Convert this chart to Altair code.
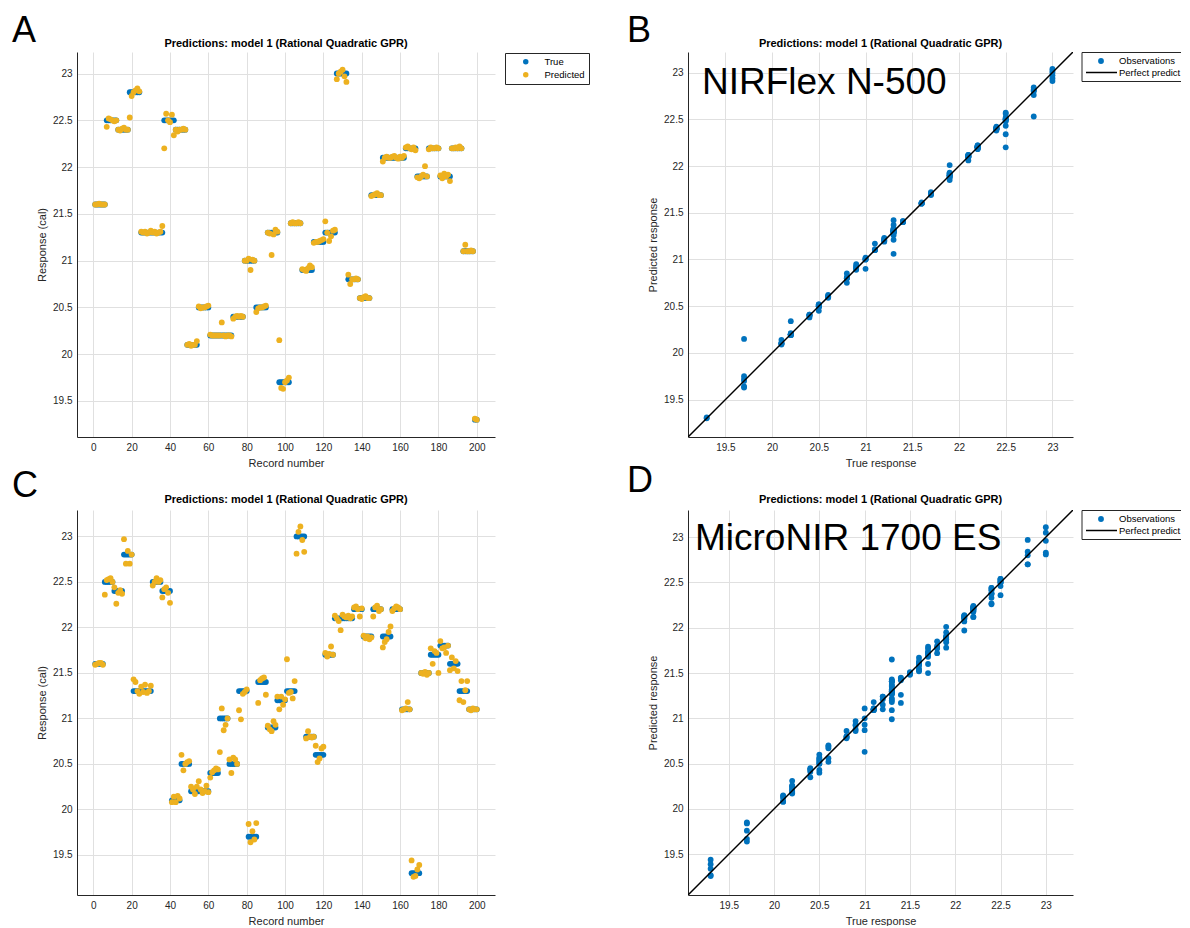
import altair as alt
import pandas as pd

BLUE = "#0072BD"
ORANGE = "#EDB120"
FONT = "Liberation Sans"
TITLE = "Predictions: model 1 (Rational Quadratic GPR)"

record_ticks = [0, 20, 40, 60, 80, 100, 120, 140, 160, 180, 200]
response_ticks = [19.5, 20, 20.5, 21, 21.5, 22, 22.5, 23]

# ---- Panel A / B data (NIRFlex N-500): true value per sample group and predictions per record
a_true = [21.6, 22.5, 22.4, 22.8, 21.3, 22.5, 22.4, 20.1, 20.5, 20.2, 20.4, 21.0, 20.5, 21.3, 19.7, 21.4,
          20.9, 21.2, 21.3, 23.0, 20.8, 20.6, 21.7, 22.1, 22.2, 21.9, 22.2, 21.9, 22.2, 21.1, 19.3]
a_pred = [
    [21.6, 21.6, 21.61, 21.6, 21.6, 21.6],
    [22.43, 22.52, 22.51, 22.5, 22.49, 22.5],
    [22.4, 22.39, 22.41, 22.42, 22.4, 22.4],
    [22.53, 22.76, 22.8, 22.82, 22.84, 22.81],
    [21.31, 21.3, 21.31, 21.29, 21.3, 21.32, 21.3, 21.31, 21.29, 21.3, 21.31, 21.37],
    [22.2, 22.57, 22.5, 22.48, 22.56, 22.34],
    [22.4, 22.38, 22.4, 22.4, 22.41, 22.4],
    [20.1, 20.11, 20.09, 20.1, 20.1, 20.14],
    [20.51, 20.49, 20.5, 20.5, 20.51, 20.52],
    [20.21, 20.2, 20.2, 20.2, 20.2, 20.2, 20.34, 20.2, 20.19, 20.2, 20.2, 20.19],
    [20.38, 20.4, 20.41, 20.4, 20.41, 20.4],
    [21.0, 21.0, 21.02, 20.9, 21.01, 21.0],
    [20.45, 20.49, 20.5, 20.5, 20.51, 20.52],
    [21.3, 21.29, 21.06, 21.28, 21.33, 21.31],
    [20.15, 19.64, 19.63, 19.7, 19.72, 19.75],
    [21.4, 21.41, 21.4, 21.4, 21.41, 21.4],
    [20.91, 20.9, 20.89, 20.92, 20.95, 20.93],
    [21.19, 21.2, 21.2, 21.21, 21.22, 21.23],
    [21.42, 21.3, 21.21, 21.26, 21.32, 21.33],
    [22.94, 23.0, 23.02, 23.04, 22.97, 22.91],
    [20.85, 20.75, 20.8, 20.8, 20.81, 20.8],
    [20.6, 20.59, 20.61, 20.62, 20.6, 20.6],
    [21.69, 21.7, 21.71, 21.72, 21.7, 21.7],
    [22.06, 22.1, 22.11, 22.1, 22.1, 22.11, 22.12, 22.1, 22.09, 22.11, 22.1, 22.12],
    [22.21, 22.22, 22.2, 22.19, 22.21, 22.18],
    [21.89, 21.88, 21.9, 21.92, 22.01, 21.9],
    [22.19, 22.21, 22.2, 22.2, 22.21, 22.2],
    [21.91, 21.88, 21.93, 21.9, 21.92, 21.85],
    [22.2, 22.2, 22.21, 22.2, 22.22, 22.2],
    [21.1, 21.17, 21.1, 21.1, 21.11, 21.1],
    [19.31, 19.3],
]

# ---- Panel C / D data (MicroNIR 1700 ES)
c_true = [21.6, 22.5, 22.4, 22.8, 21.3, 22.5, 22.4, 20.1, 20.5, 20.2, 20.4, 21.0, 20.5, 21.3, 19.7, 21.4,
          20.9, 21.2, 21.3, 23.0, 20.8, 20.6, 21.7, 22.1, 22.2, 21.9, 22.2, 21.9, 22.2, 21.1, 19.3, 21.5,
          21.7, 21.8, 21.6, 21.3, 21.1]
c_pred = [
    [21.59, 21.6, 21.61, 21.61, 21.59],
    [22.36, 22.52, 22.53, 22.54, 22.5],
    [22.44, 22.26, 22.38, 22.41, 22.37],
    [22.97, 22.7, 22.84, 22.7, 22.8],
    [21.43, 21.4, 21.3, 21.27, 21.35, 21.29, 21.37, 21.28, 21.3, 21.36],
    [22.46, 22.5, 22.54, 22.5, 22.52],
    [22.33, 22.42, 22.44, 22.38, 22.27],
    [20.08, 20.14, 20.08, 20.15, 20.12],
    [20.6, 20.43, 20.5, 20.52, 20.53],
    [20.25, 20.22, 20.17, 20.25, 20.31, 20.22, 20.18, 20.2, 20.26, 20.19],
    [20.35, 20.41, 20.43, 20.45, 20.44],
    [20.63, 21.11, 20.87, 20.93, 21.0],
    [20.55, 20.4, 20.57, 20.55, 20.5],
    [21.09, 20.99, 21.27, 21.29, 21.32],
    [19.84, 19.64, 19.76, 19.67, 19.85],
    [21.17, 21.42, 21.44, 21.45, 21.26],
    [20.92, 20.88, 20.86, 20.97, 20.93],
    [21.24, 21.1, 21.24, 21.15, 21.21],
    [21.65, 21.28, 21.29, 21.22, 21.41],
    [22.81, 23.05, 23.11, 22.96, 22.83],
    [20.78, 20.86, 20.8, 20.79, 20.8],
    [20.7, 20.52, 20.56, 20.67, 20.69],
    [21.72, 21.68, 21.71, 21.79, 21.7],
    [22.13, 22.1, 22.07, 21.97, 22.14, 22.12, 22.11, 22.13, 22.1, 22.12],
    [22.22, 22.23, 22.2, 22.12, 22.21],
    [21.91, 21.88, 21.9, 21.87, 21.89],
    [22.12, 22.22, 22.24, 22.18, 22.2],
    [21.78, 21.84, 21.87, 21.95, 22.01],
    [22.18, 22.21, 22.23, 22.22, 22.2],
    [21.09, 21.1, 21.11, 21.18, 21.1],
    [19.44, 19.26, 19.27, 19.34, 19.39],
    [21.5, 21.49, 21.51, 21.48, 21.5],
    [21.77, 21.6, 21.74, 21.72, 21.5],
    [21.85, 21.77, 21.78, 21.72, 21.8],
    [21.53, 21.67, 21.55, 21.63, 21.52],
    [21.2, 21.41, 21.18, 21.31, 21.41],
    [21.1, 21.09, 21.11, 21.1, 21.1],
]


def build_frame(trues, preds):
    rows = []
    rec = 1
    for t, ps in zip(trues, preds):
        for p in ps:
            rows.append({"record": rec, "true": t, "pred": p})
            rec += 1
    return pd.DataFrame(rows)


df_a = build_frame(a_true, a_pred)
df_c = build_frame(c_true, c_pred)

W_REC, W_SC, H = 418, 385, 385
PT_SIZE = 34
ONE = pd.DataFrame({"k": [0]})


def letter_layer(letter, x, y):
    return alt.Chart(pd.DataFrame({"t": [letter]})).mark_text(
        fontSize=36, font=FONT, align="left", baseline="alphabetic", color="black"
    ).encode(text="t:N", x=alt.value(x), y=alt.value(y))


def title_layer(width, offset):
    return alt.Chart(pd.DataFrame({"t": [TITLE]})).mark_text(
        fontSize=11, font=FONT, fontWeight="bold", align="center", baseline="bottom", color="black"
    ).encode(text="t:N", x=alt.value(width / 2), y=alt.value(-offset))


def record_panel(df, ydom, letter, letter_y, title_offset):
    xenc = alt.X("record:Q", scale=alt.Scale(domain=[-8.5, 209.5], nice=False, zero=False),
                 axis=alt.Axis(values=record_ticks, title="Record number"))
    yscale = alt.Scale(domain=ydom, nice=False, zero=False)
    yaxis = alt.Axis(values=response_ticks, title="Response (cal)", format="~g")
    color = alt.Color("series:N", scale=alt.Scale(domain=["True", "Predicted"], range=[BLUE, ORANGE]),
                      legend=alt.Legend(title=None, orient="none", legendX=428, legendY=1,
                                        strokeColor="#262626", fillColor="white", padding=4,
                                        symbolType="circle", symbolSize=30, labelFontSize=9.5,
                                        labelColor="black", symbolOffset=12, labelOffset=14,
                                        rowPadding=2, labelFont=FONT))
    base = alt.Chart(df)
    t_layer = base.transform_calculate(series="'True'").mark_circle(size=PT_SIZE, opacity=1).encode(
        x=xenc, y=alt.Y("true:Q", scale=yscale, axis=yaxis), color=color)
    p_layer = base.transform_calculate(series="'Predicted'").mark_circle(size=PT_SIZE, opacity=1).encode(
        x=xenc, y=alt.Y("pred:Q", scale=yscale, axis=yaxis), color=color)
    return alt.layer(t_layer, p_layer, letter_layer(letter, -65, letter_y),
                     title_layer(W_REC, title_offset)).properties(width=W_REC, height=H)


def scatter_panel(df, dom, letter, letter_y, label, label_x, label_y, title_offset):
    sc = alt.Scale(domain=dom, nice=False, zero=False)
    pts = alt.Chart(df).mark_circle(size=PT_SIZE, color=BLUE, opacity=1).encode(
        x=alt.X("true:Q", scale=sc, axis=alt.Axis(values=response_ticks, title="True response", format="~g")),
        y=alt.Y("pred:Q", scale=sc, axis=alt.Axis(values=response_ticks, title="Predicted response", format="~g")),
    )
    line = alt.Chart(pd.DataFrame({"v": [dom[0], dom[1]]})).mark_line(
        color="black", strokeWidth=1.5, clip=True).encode(x=alt.X("v:Q", scale=sc), y=alt.Y("v:Q", scale=sc))
    big = alt.Chart(pd.DataFrame({"t": [label]})).mark_text(
        fontSize=37, font=FONT, align="left", baseline="alphabetic", color="black"
    ).encode(text="t:N", x=alt.value(label_x), y=alt.value(label_y))
    # legend (box partly cut off at the right edge, as in the original)
    lx0, lx1, ly0, ly1 = 394, 493, 0.5, 29.5
    edges = [
        alt.Chart(ONE).mark_rule(color="#262626", strokeWidth=1).encode(
            x=alt.value(lx0), x2=alt.value(lx1), y=alt.value(ly0)),
        alt.Chart(ONE).mark_rule(color="#262626", strokeWidth=1).encode(
            x=alt.value(lx0), x2=alt.value(lx1), y=alt.value(ly1)),
        alt.Chart(ONE).mark_rule(color="#262626", strokeWidth=1).encode(
            x=alt.value(lx0), y=alt.value(ly0), y2=alt.value(ly1)),
    ]
    bg = alt.Chart(ONE).mark_rect(color="white").encode(
        x=alt.value(lx0), x2=alt.value(lx1), y=alt.value(ly0), y2=alt.value(ly1))
    sym_dot = alt.Chart(ONE).mark_circle(size=PT_SIZE, color=BLUE, opacity=1).encode(
        x=alt.value(413), y=alt.value(9))
    sym_line = alt.Chart(ONE).mark_rule(color="black", strokeWidth=1.5).encode(
        x=alt.value(398), x2=alt.value(429), y=alt.value(20.5))
    texts = alt.Chart(pd.DataFrame({"t": ["Observations", "Perfect prediction"], "yy": [9, 21]})).mark_text(
        fontSize=9.5, font=FONT, align="left", baseline="middle", color="black", limit=62, ellipsis="\u200b"
    ).encode(text="t:N", x=alt.value(431), y=alt.Y("yy:Q", scale=None))
    return alt.layer(pts, line, big, letter_layer(letter, -61, letter_y), title_layer(W_SC, title_offset),
                     bg, *edges, sym_dot, sym_line, texts).properties(width=W_SC, height=H)


panel_a = record_panel(df_a, [19.115, 23.23], "A", -10, 3)
panel_b = scatter_panel(df_a, [19.1, 23.22], "B", -10, "NIRFlex N-500", 14, 42, 3)
panel_c = record_panel(df_c, [19.06, 23.29], "C", -13, 5)
panel_d = scatter_panel(df_c, [19.05, 23.3], "D", -18, "MicroNIR 1700 ES", 7, 40, 5)

chart = alt.concat(panel_a, panel_b, panel_c, panel_d, columns=2,
                   spacing={"row": 73, "column": 193}).properties(
    bounds="flush", padding={"left": 4, "top": 5, "right": 0, "bottom": 0}
).configure(font=FONT).configure_view(strokeWidth=0).configure_axis(
    domainColor="#262626", domainWidth=1, ticks=False, labelPadding=5,
    labelColor="#262626", labelFontSize=10, labelFont=FONT,
    titleFont=FONT, titleFontSize=11, titleFontWeight="normal", titleColor="#262626", titlePadding=5,
    gridColor="#e0e0e0", gridWidth=1,
)

chart.save("out.html", embed_options={"renderer": "svg", "actions": False})
